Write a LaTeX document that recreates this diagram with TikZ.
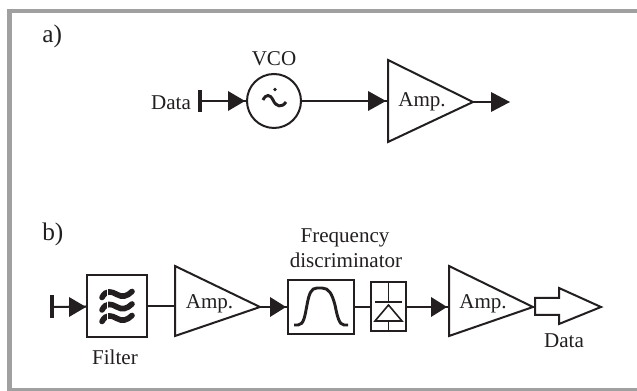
\documentclass[tikz,border=0pt]{standalone}
\usepackage{fontspec}
\setmainfont{Liberation Serif}
\definecolor{ink}{HTML}{231F20}
\definecolor{framegray}{HTML}{A0A0A0}
\tikzset{
 x=0.75pt,y=-0.75pt,
 ln/.style={draw=ink,line width=1.5pt},
 thin ln/.style={draw=ink,line width=1.2pt},
 head/.style={fill=ink,draw=none},
 lab/.style={font=\fontsize{15.8}{18}\selectfont,text=ink,inner sep=0pt},
 panel/.style={font=\fontsize{19}{22}\selectfont,text=ink,inner sep=0pt,anchor=base west},
 boxshape/.style={ln,rectangle,inner sep=0pt,fill=white},
 wave/.style={draw=ink,line width=4.2pt,line cap=round},
}
\newcommand{\solidhead}[3]{\fill[head] (#1,#3) -- (#1,#3-10) -- (#2,#3) -- (#1,#3+10) -- cycle;}
\newcommand{\filterwave}[2]{\draw[wave] (#1-15,#2+3) .. controls (#1-11,#2-5) and (#1-5,#2-3) .. (#1,#2) .. controls (#1+5,#2+3) and (#1+10,#2+2) .. (#1+15,#2-3);}
\begin{document}
\begin{tikzpicture}
\useasboundingbox (0,0) rectangle (637,391);
\fill[white] (0,0) rectangle (637,391);
\fill[framegray] (7,9) rectangle (637,13);
\fill[framegray] (7,9) rectangle (12,391);
\fill[framegray] (7,388) rectangle (637,391);

\node[panel] (pa) at (42,43) {a)};
\node[panel] (pb) at (42,241) {b)};

% panel a
\node[lab] (dataa) at (171,103) {Data};
\coordinate (ta) at (200,101);
\draw[draw=ink,line width=3pt] (200,90) -- (200,112);
\node[circle,ln,minimum size=54*0.75pt,inner sep=0pt] (vco) at (274,101) {};
\node[lab] (vcolab) at (274,59) {VCO};
\draw[ln] (ta) -- (vco.west);
\solidhead{228}{245}{101}
\fill[ink] (275,89.5) circle (1.8);
\draw[draw=ink,line width=2.2pt] (263,100) .. controls (266,94) and (270,94) .. (273,100) .. controls (276,107) and (282,108) .. (286,102);
\coordinate (amp1in) at (388,101);
\coordinate (amp1out) at (473,102);
\draw[ln,line join=miter] (388,60) -- (amp1out) -- (388,142) -- cycle;
\node[lab] (amp1) at (422,102) {Amp.};
\draw[ln] (vco.east) -- (amp1in);
\solidhead{368}{386}{101}
\coordinate (out1) at (505,102);
\draw[ln] (amp1out) -- (out1);
\solidhead{491}{510}{102}

% panel b
\coordinate (tb) at (52,307);
\draw[draw=ink,line width=2.4pt] (52,295) -- (52,318);
\node[boxshape,minimum width=60*0.75pt,minimum height=62*0.75pt] (filter) at (117,306.5) {};
\draw[ln] (tb) -- (filter.west);
\solidhead{69}{86}{307}
\filterwave{117}{294.5}
\filterwave{117}{307}
\filterwave{117}{318.5}
\draw[white,line width=0.3pt] (107,288) -- (107,324);
\node[lab] (filterlab) at (115,357) {Filter};
\coordinate (amp2in) at (175,306.5);
\coordinate (amp2out) at (260,307);
\draw[ln] (175,266) -- (amp2out) -- (175,336) -- cycle;
\node[lab] (amp2) at (209.5,304) {Amp.};
\draw[ln] (filter.east) -- (amp2in);
\node[boxshape,minimum width=66*0.75pt,minimum height=54*0.75pt] (disc) at (321,307) {};
\draw[ln] (amp2out) -- (disc.west);
\solidhead{270}{286}{307}
\draw[draw=ink,line width=2.2pt] (294,325) -- (298,325) .. controls (304,325) and (305,315) .. (307,305) .. controls (309,294) and (311,288) .. (317,288) -- (322,288) .. controls (329,288) and (332,294) .. (335,305) .. controls (337,315) and (339,325) .. (344,325) -- (348,325);
\node[lab] (freq) at (345,238) {Frequency};
\node[lab] (discr) at (346,260) {discriminator};
\node[boxshape,minimum width=35*0.75pt,minimum height=49*0.75pt] (det) at (388.5,307) {};
\draw[ln] (disc.east) -- (det.west);
\draw[thin ln] (388.5,283) -- (388.5,302);
\draw[thin ln] (375,302) -- (402,302);
\draw[thin ln] (388.5,305) -- (375,321) -- (402,321) -- cycle;
\draw[thin ln] (388.5,321) -- (388.5,331);
\coordinate (amp3in) at (449,307);
\coordinate (amp3out) at (533,307);
\draw[ln] (449,266) -- (amp3out) -- (449,336) -- cycle;
\node[lab] (amp3) at (483,304) {Amp.};
\draw[ln] (det.east) -- (amp3in);
\solidhead{431}{447}{307}
\draw[ln,line join=miter] (535,298) -- (559,298) -- (559,288) -- (601,307) -- (559,324) -- (559,315) -- (535,315) -- cycle;
\node[lab] (datab) at (564,341) {Data};
\end{tikzpicture}
\end{document}
